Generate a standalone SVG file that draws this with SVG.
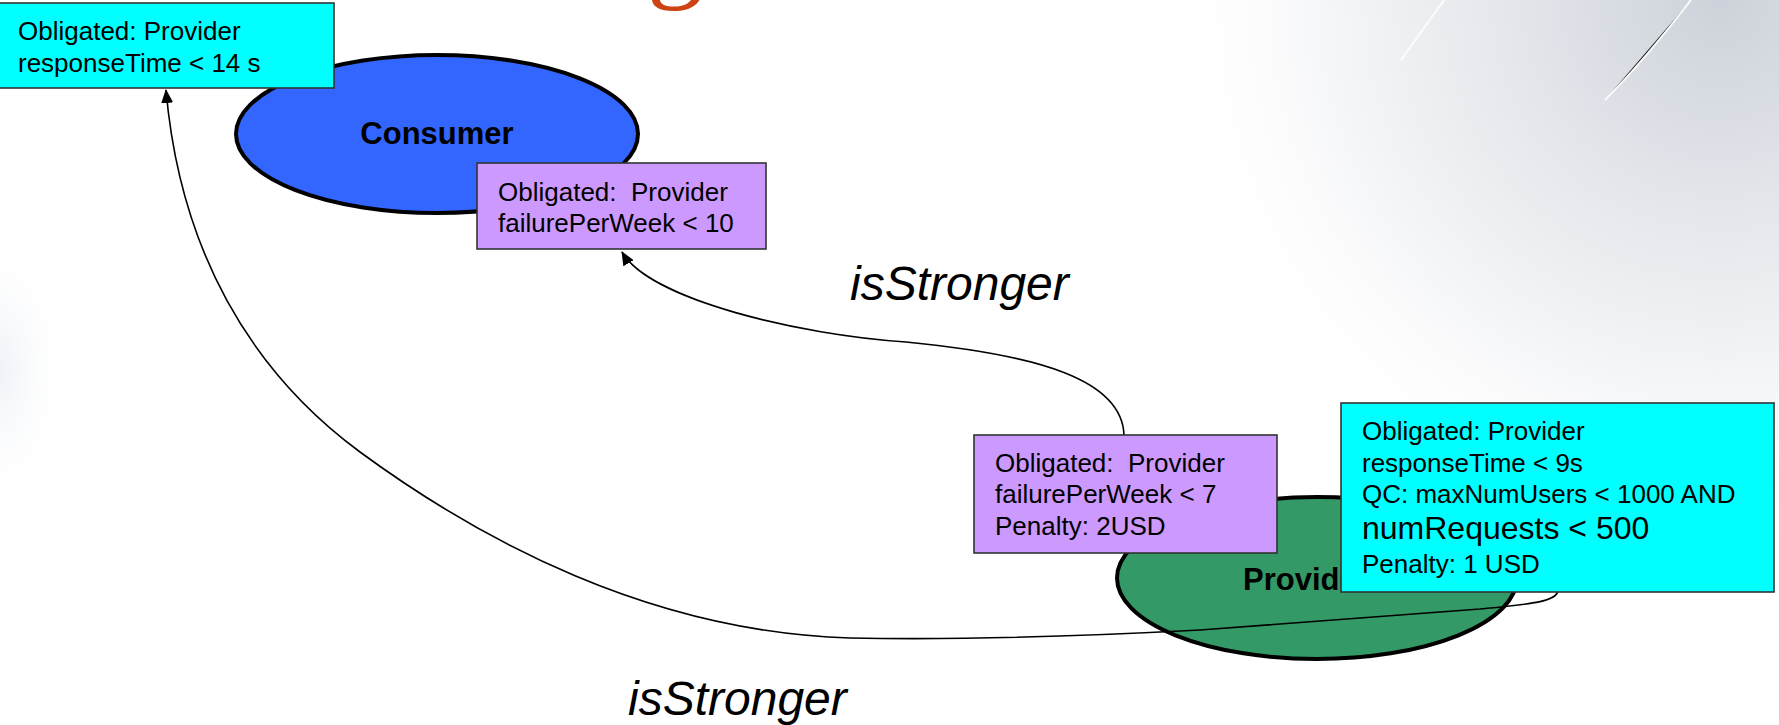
<svg xmlns="http://www.w3.org/2000/svg" width="1779" height="725" viewBox="0 0 1779 725">
  <defs>
    <radialGradient id="bgTR" cx="1720" cy="0" r="560" gradientUnits="userSpaceOnUse">
      <stop offset="0" stop-color="#cdd2da"/>
      <stop offset="0.35" stop-color="#e2e5ea"/>
      <stop offset="0.7" stop-color="#f5f6f8"/>
      <stop offset="1" stop-color="#ffffff" stop-opacity="0"/>
    </radialGradient>
    <radialGradient id="bgL" cx="0" cy="370" r="70" gradientUnits="userSpaceOnUse" gradientTransform="translate(0,370) scale(1,2) translate(0,-370)">
      <stop offset="0" stop-color="#eef2f7"/>
      <stop offset="1" stop-color="#ffffff" stop-opacity="0"/>
    </radialGradient>
    <marker id="arrow" viewBox="0 0 14 12" refX="13" refY="6" markerWidth="14" markerHeight="12" markerUnits="userSpaceOnUse" orient="auto">
      <path d="M0,0 L14,6 L0,12 Z" fill="#000"/>
    </marker>
    <style>
      .box { stroke: #333; stroke-width: 1.6; }
      .cyan { fill: #00FFFF; }
      .purple { fill: #CC99FF; }
      .ell { stroke: #000; stroke-width: 4; }
      .t { font-family: "Liberation Sans", Arial, sans-serif; font-size: 26px; fill: #000; }
      .big { font-size: 32px; }
      .lbl { font-family: "Liberation Sans", Arial, sans-serif; font-size: 31px; font-weight: bold; fill: #000; }
      .edge { font-family: "Liberation Sans", Arial, sans-serif; font-size: 48px; font-style: italic; fill: #000; }
      .conn { fill: none; stroke: #000; stroke-width: 1.6; }
    </style>
  </defs>

  <!-- background -->
  <rect x="0" y="0" width="1779" height="725" fill="#ffffff"/>
  <rect x="1100" y="0" width="679" height="600" fill="url(#bgTR)"/>
  <rect x="0" y="220" width="80" height="300" fill="url(#bgL)"/>
  <path d="M1444,0 L1401,60" stroke="#ffffff" stroke-width="2" opacity="0.9"/>
  <path d="M1691,0 C1660,40 1630,75 1605,100" stroke="#ffffff" stroke-width="2" opacity="0.9"/>

  <!-- clipped title fragment -->
  <text x="647" y="-13" font-family="'Liberation Serif', 'Times New Roman', serif" font-size="113" fill="#CC4411">g</text>

  <!-- nodes: ellipses -->
  <g id="consumer">
    <ellipse class="ell" cx="437" cy="134" rx="201" ry="79" fill="#3366FF"/>
    <text class="lbl" x="437" y="144" text-anchor="middle">Consumer</text>
  </g>
  <g id="provider">
    <ellipse class="ell" cx="1317" cy="578" rx="200" ry="81" fill="#339966"/>
    <text class="lbl" x="1243" y="590">Provider</text>
  </g>

  <!-- connectors -->
  <g id="connectors">
    <path class="conn" d="M1124,435 C1122,380 1040,355 906,342 C800,335 650,300 622,252" marker-end="url(#arrow)"/>
    <path class="conn" d="M1558,591 C1556,602 1530,604 1480,609 L1200,630 C1050,638 950,640 850,638 C650,632 480,540 360,452 C250,371 180,250 166,90" marker-end="url(#arrow)"/>
    <text class="edge" x="850" y="300">isStronger</text>
    <text class="edge" x="628" y="715">isStronger</text>
  </g>

  <!-- obligation boxes -->
  <g id="ob-consumer-rt">
    <rect class="box cyan" x="-1" y="3" width="335" height="85"/>
    <text class="t" x="18" y="40">Obligated: Provider</text>
    <text class="t" x="18" y="72">responseTime &lt; 14 s</text>
  </g>
  <g id="ob-consumer-fail">
    <rect class="box purple" x="477" y="163" width="289" height="86"/>
    <text class="t" x="498" y="201" xml:space="preserve">Obligated:  Provider</text>
    <text class="t" x="498" y="232">failurePerWeek &lt; 10</text>
  </g>
  <g id="ob-provider-fail">
    <rect class="box purple" x="974" y="435" width="303" height="118"/>
    <text class="t" x="995" y="472" xml:space="preserve">Obligated:  Provider</text>
    <text class="t" x="995" y="503">failurePerWeek &lt; 7</text>
    <text class="t" x="995" y="535">Penalty: 2USD</text>
  </g>
  <g id="ob-provider-rt">
    <rect class="box cyan" x="1341" y="403" width="433" height="189"/>
    <text class="t" x="1362" y="440">Obligated: Provider</text>
    <text class="t" x="1362" y="472">responseTime &lt; 9s</text>
    <text class="t" x="1362" y="503">QC: maxNumUsers &lt; 1000 AND</text>
    <text class="t big" x="1362" y="539">numRequests &lt; 500</text>
    <text class="t" x="1362" y="573">Penalty: 1 USD</text>
  </g>
</svg>
